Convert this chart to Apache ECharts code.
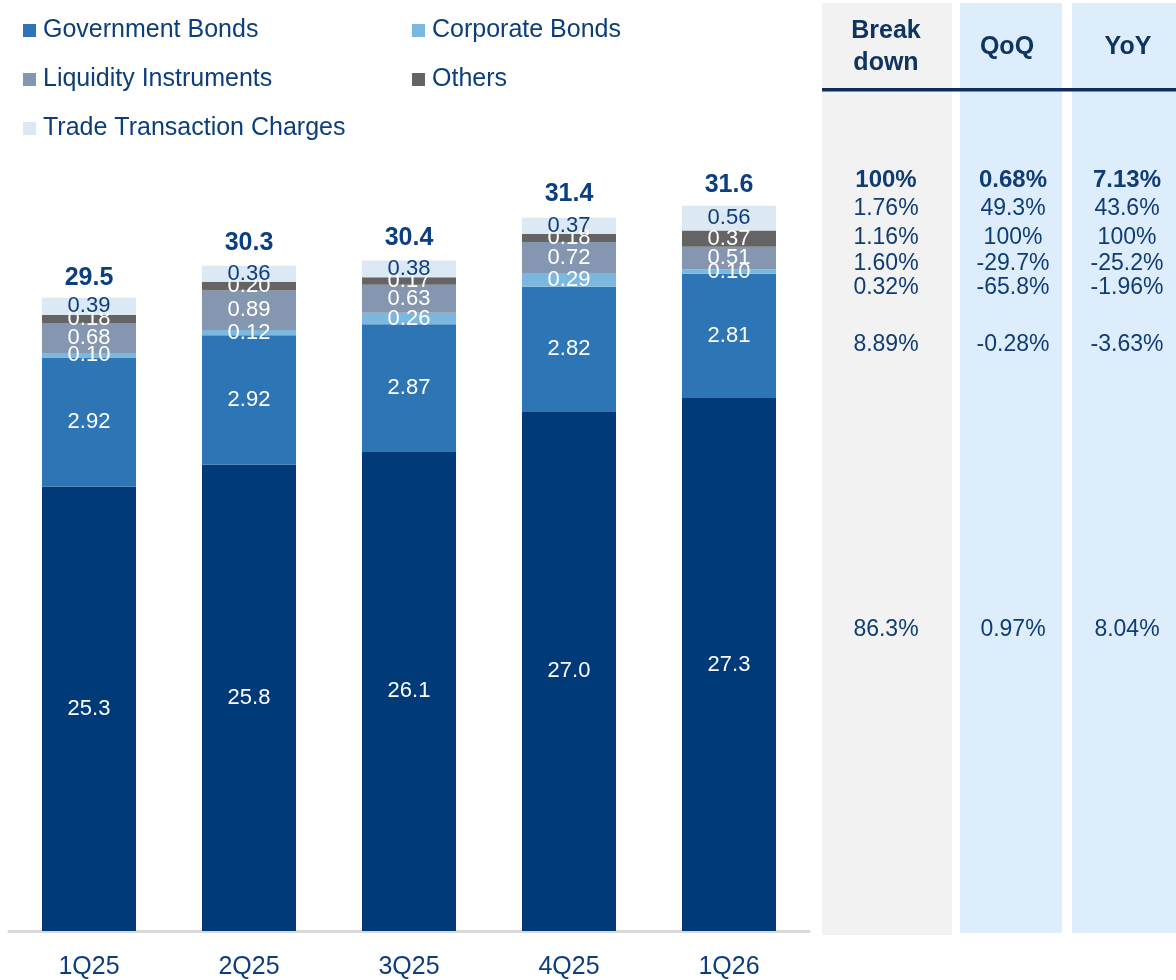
<!DOCTYPE html>
<html>
<head>
<meta charset="utf-8">
<script src="https://cdn.jsdelivr.net/npm/echarts@6/dist/echarts.min.js"></script>
<style>
  html, body { margin: 0; padding: 0; background: #ffffff; }
  #chart { width: 1176px; height: 980px; }
</style>
</head>
<body>
<div id="chart"></div>
<script>
// Quarterly revenue by instrument (stacked), with totals on top
const categories = ['1Q25', '2Q25', '3Q25', '4Q25', '1Q26'];
const coreValues = [25.3, 25.8, 26.1, 27.0, 27.3];
const governmentBonds = [2.92, 2.92, 2.87, 2.82, 2.81];
const corporateBonds = [0.10, 0.12, 0.26, 0.29, 0.10];
const liquidityInstruments = [0.68, 0.89, 0.63, 0.72, 0.51];
const others = [0.18, 0.20, 0.17, 0.18, 0.37];
const tradeTransactionCharges = [0.39, 0.36, 0.38, 0.37, 0.56];
const totals = [29.5, 30.3, 30.4, 31.4, 31.6];

// Side table: total row first, then segments from top of the stack down
const breakdownCol = ['100%', '1.76%', '1.16%', '1.60%', '0.32%', '8.89%', '86.3%'];
const qoqCol = ['0.68%', '49.3%', '100%', '-29.7%', '-65.8%', '-0.28%', '0.97%'];
const yoyCol = ['7.13%', '43.6%', '100%', '-25.2%', '-1.96%', '-3.63%', '8.04%'];
const tableHeaders = ['Break\ndown', 'QoQ', 'YoY'];

const FONT = "'Liberation Sans', Arial, sans-serif";
const NAVY_TEXT = '#0C3E7C';

const rowY = [180, 209, 238, 264, 288, 345, 630];
const colX = [886, 1013, 1127];

const chart = echarts.init(document.getElementById('chart'), null, { renderer: 'canvas' });

function segLabel(color, digits) {
  return {
    show: true,
    position: 'inside',
    color: color,
    fontFamily: FONT,
    fontSize: 22,
    formatter: p => p.value.toFixed(digits)
  };
}

function barSeries(name, data, color, labelColor, digits) {
  return {
    name: name,
    type: 'bar',
    stack: 'rev',
    data: data,
    barWidth: 94,
    itemStyle: { color: color },
    label: segLabel(labelColor, digits),
    emphasis: { disabled: true }
  };
}

const graphics = [];
// column backgrounds
graphics.push({ type: 'rect', shape: { x: 822, y: 3, width: 130, height: 932 }, style: { fill: '#F2F2F2' }, silent: true });
graphics.push({ type: 'rect', shape: { x: 960, y: 3, width: 102, height: 930 }, style: { fill: '#DDEDFC' }, silent: true });
graphics.push({ type: 'rect', shape: { x: 1072, y: 3, width: 104, height: 930 }, style: { fill: '#DDEDFC' }, silent: true });
// header rule
graphics.push({ type: 'rect', shape: { x: 822, y: 88, width: 354, height: 3.5 }, style: { fill: '#0D2E5C' }, silent: true });
// headers
const headerX = [886, 1007, 1128];
tableHeaders.forEach((h, i) => {
  graphics.push({
    type: 'text', x: headerX[i], y: 47, silent: true,
    style: {
      text: h, fill: '#0F3461', font: 'bold 25px ' + FONT,
      align: 'center', verticalAlign: 'middle', lineHeight: 32
    }
  });
});
[breakdownCol, qoqCol, yoyCol].forEach((col, c) => {
  col.forEach((v, r) => {
    graphics.push({
      type: 'text', x: colX[c], y: rowY[r], silent: true,
      style: {
        text: v, fill: '#0F3C73',
        font: (r === 0 ? 'bold 24px ' : '23px ') + FONT,
        align: 'center', verticalAlign: 'middle'
      }
    });
  });
});

const option = {
  animation: false,
  backgroundColor: '#ffffff',
  grid: { left: 9, right: 367, top: 146, bottom: 49, containLabel: false },
  legend: [
    {
      data: ['Government Bonds', 'Liquidity Instruments', 'Trade Transaction Charges'],
      orient: 'vertical', left: 18, top: 13,
      itemWidth: 13, itemHeight: 13, itemGap: 24, icon: 'rect',
      textStyle: { color: NAVY_TEXT, fontSize: 25, fontFamily: FONT, padding: [0, 0, 0, 2] },
      selectedMode: false
    },
    {
      data: ['Corporate Bonds', 'Others'],
      orient: 'vertical', left: 407, top: 13,
      itemWidth: 13, itemHeight: 13, itemGap: 24, icon: 'rect',
      textStyle: { color: NAVY_TEXT, fontSize: 25, fontFamily: FONT, padding: [0, 0, 0, 2] },
      selectedMode: false
    }
  ],
  xAxis: {
    type: 'category',
    data: categories,
    axisTick: { show: false },
    axisLine: { show: true, lineStyle: { color: '#D9D9D9', width: 3 } },
    axisLabel: { color: NAVY_TEXT, fontSize: 25, fontFamily: FONT, margin: 24 }
  },
  yAxis: {
    type: 'value',
    min: 15.25,
    max: 33,
    show: false,
    splitLine: { show: false }
  },
  series: [
    barSeries('Core', coreValues, '#003A78', '#ffffff', 1),
    barSeries('Government Bonds', governmentBonds, '#2E75B6', '#ffffff', 2),
    barSeries('Corporate Bonds', corporateBonds, '#7AB8E0', '#ffffff', 2),
    barSeries('Liquidity Instruments', liquidityInstruments, '#8496B0', '#ffffff', 2),
    barSeries('Others', others, '#646464', '#ffffff', 2),
    barSeries('Trade Transaction Charges', tradeTransactionCharges, '#DDE8F5', '#0C3E7C', 2),
    {
      name: 'Total',
      type: 'scatter',
      data: totals,
      symbolSize: 0,
      silent: true,
      itemStyle: { opacity: 1 },
      label: {
        show: true,
        position: 'top',
        distance: 10,
        color: '#0B3F7F',
        opacity: 1,
        fontFamily: FONT,
        fontWeight: 'bold',
        fontSize: 25,
        formatter: p => p.value.toFixed(1)
      }
    }
  ],
  graphic: graphics
};

chart.setOption(option);
</script>
</body>
</html>
